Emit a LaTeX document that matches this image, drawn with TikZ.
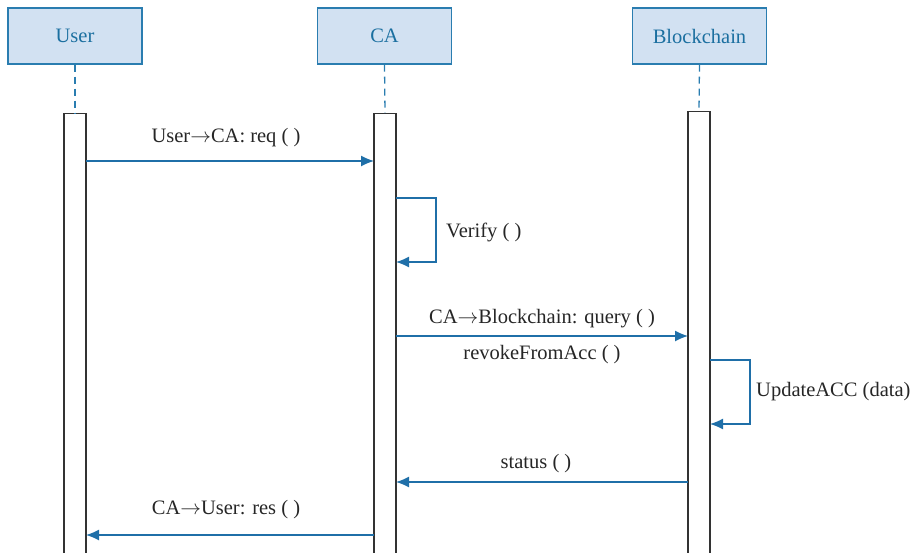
\documentclass[tikz,border=0pt]{standalone}
\usepackage{fontspec}
\setmainfont{Liberation Serif}
\usetikzlibrary{arrows.meta}
\definecolor{hdrfill}{HTML}{D2E1F2}
\definecolor{hdrline}{HTML}{2A7DB0}
\definecolor{hdrtext}{HTML}{1B6FA0}
\definecolor{msgline}{HTML}{1F6FA8}
\newcommand{\rarr}{\ensuremath{\rightarrow}}
\tikzset{
  hdr/.style={draw=hdrline, fill=hdrfill, line width=1.3pt, text=hdrtext, minimum width=134pt, minimum height=56pt, inner sep=0pt, font=\fontsize{20.5}{24}\selectfont},
  actbar/.style={draw=black!80, fill=white, line width=1.3pt, minimum width=22pt, inner sep=0pt},
  lifeline/.style={draw=hdrline, line width=1.3pt, dash pattern=on 7pt off 5pt},
  msg/.style={draw=msgline, line width=1.3pt, -{Latex[length=13pt,width=11pt]}},
  lbl/.style={font=\fontsize{20.5}{24}\selectfont, text=black!85, inner sep=0pt},
}
\begin{document}
\begin{tikzpicture}[x=1pt,y=-1pt]
\useasboundingbox (0,0) rectangle (916,552);
% headers
\node[hdr] (user) at (75,36) {User};
\node[hdr] (ca) at (384.5,36) {CA};
\node[hdr] (bc) at (699.5,36) {Blockchain};
% activation bars
\node[actbar, minimum height=445pt, anchor=north] (ua) at (75,113) {};
\node[actbar, minimum height=445pt, anchor=north] (cab) at (385,113) {};
\node[actbar, minimum height=447pt, anchor=north] (bca) at (699,111) {};
% lifelines
\draw[lifeline] (user.south) -- (ua.north);
\draw[lifeline] (ca.south) -- (cab.north);
\draw[lifeline] (bc.south) -- (bca.north);
% coordinates
\coordinate (m1s) at (86,161); \coordinate (m1e) at (374,161);
\coordinate (v1) at (396,198); \coordinate (v2) at (436,198);
\coordinate (v3) at (436,262); \coordinate (v4) at (396,262);
\coordinate (m3s) at (396,336); \coordinate (m3e) at (688,336);
\coordinate (u1) at (710,360); \coordinate (u2) at (750,360);
\coordinate (u3) at (750,424); \coordinate (u4) at (710,424);
\coordinate (m5s) at (688,482); \coordinate (m5e) at (396,482);
\coordinate (m6s) at (374,535); \coordinate (m6e) at (86,535);
% messages
\draw[msg] (m1s) -- (m1e);
\draw[msg] (v1) -- (v2) -- (v3) -- (v4);
\draw[msg] (m3s) -- (m3e);
\draw[msg] (u1) -- (u2) -- (u3) -- (u4);
\draw[msg] (m5s) -- (m5e);
\draw[msg] (m6s) -- (m6e);
% labels
\node[lbl] (l1) at (226,138) {User\rarr CA: req ( )};
\node[lbl, anchor=west] (l2) at (446,232) {Verify ( )};
\node[lbl] (l3) at (542,319) {CA\rarr Blockchain: query ( )};
\node[lbl] (l4) at (542,355) {revokeFromAcc ( )};
\node[lbl, anchor=west] (l5) at (756,392) {UpdateACC (data)};
\node[lbl] (l6) at (536,464) {status ( )};
\node[lbl] (l7) at (226,510) {CA\rarr User: res ( )};
\end{tikzpicture}
\end{document}
